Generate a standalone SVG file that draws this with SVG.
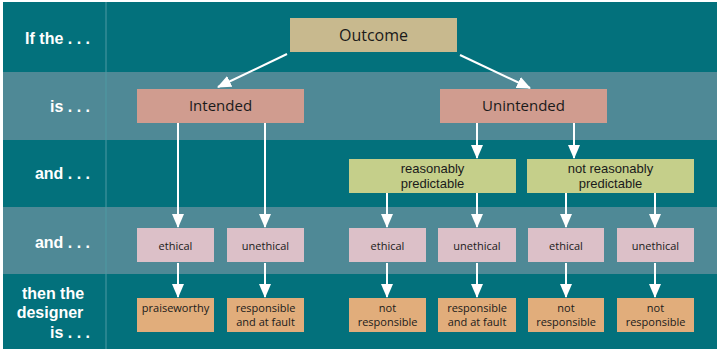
<svg xmlns="http://www.w3.org/2000/svg" width="720" height="352" viewBox="0 0 720 352">
<defs>
<marker id="ahv" viewBox="0 0 14 14" refX="13" refY="7" markerWidth="14" markerHeight="14" markerUnits="userSpaceOnUse" orient="auto"><path d="M0,1 L14,7 L0,13 z" fill="#fff"/></marker>
</defs>
<style>
.dark{fill:#03717c}
.light{fill:#4f8996}
.lbl{font-family:"Liberation Sans","Open Sans",sans-serif;font-weight:bold;font-size:16px;fill:#fff}
.t{font-family:"Open Sans","Liberation Sans",sans-serif;fill:#1a1a1a;text-anchor:middle}
.big{font-size:15px}
.mid{font-family:"Liberation Sans","Open Sans",sans-serif;font-size:13px}
.sm{font-size:11px}
.out{fill:#c8b98e}
.int{fill:#d09c8f}
.pred{fill:#c5cf8a}
.eth{fill:#dcc0c8}
.res{fill:#e1ad7b}
.c{stroke:#fff;stroke-width:2;fill:none}
</style>
<rect width="720" height="352" fill="#fff"/>
<g id="bands">
<rect class="dark" x="3" y="2" width="714" height="70"/>
<rect class="light" x="3" y="72" width="714" height="68"/>
<rect class="dark" x="3" y="140" width="714" height="67"/>
<rect class="light" x="3" y="207" width="714" height="67"/>
<rect class="dark" x="3" y="274" width="714" height="75"/>
<line x1="106" y1="2" x2="106" y2="349" stroke="#4e9aa3" stroke-width="1"/>
</g>
<g id="labels">
<text class="lbl" x="90" y="44" text-anchor="end">If the . . .</text>
<text class="lbl" x="90" y="112" text-anchor="end">is . . .</text>
<text class="lbl" x="90" y="179" text-anchor="end">and . . .</text>
<text class="lbl" x="90" y="248" text-anchor="end">and . . .</text>
<text class="lbl" x="53" y="299" text-anchor="middle">then the</text>
<text class="lbl" x="50" y="318" text-anchor="middle">designer</text>
<text class="lbl" x="90" y="338" text-anchor="end">is . . .</text>
</g>
<g id="connectors">
<line class="c" x1="287" y1="54" x2="218" y2="87" marker-end="url(#ahv)"/>
<line class="c" x1="460" y1="55" x2="530" y2="88" marker-end="url(#ahv)"/>
<line class="c" x1="178" y1="123" x2="178" y2="227" marker-end="url(#ahv)"/>
<line class="c" x1="265" y1="123" x2="265" y2="227" marker-end="url(#ahv)"/>
<line class="c" x1="477" y1="123" x2="477" y2="158" marker-end="url(#ahv)"/>
<line class="c" x1="574" y1="123" x2="574" y2="158" marker-end="url(#ahv)"/>
<line class="c" x1="387" y1="193" x2="387" y2="227" marker-end="url(#ahv)"/>
<line class="c" x1="477" y1="193" x2="477" y2="227" marker-end="url(#ahv)"/>
<line class="c" x1="566" y1="193" x2="566" y2="227" marker-end="url(#ahv)"/>
<line class="c" x1="655" y1="193" x2="655" y2="227" marker-end="url(#ahv)"/>
<line class="c" x1="178" y1="263" x2="178" y2="297" marker-end="url(#ahv)"/>
<line class="c" x1="265" y1="263" x2="265" y2="297" marker-end="url(#ahv)"/>
<line class="c" x1="387" y1="263" x2="387" y2="297" marker-end="url(#ahv)"/>
<line class="c" x1="477" y1="263" x2="477" y2="297" marker-end="url(#ahv)"/>
<line class="c" x1="566" y1="263" x2="566" y2="297" marker-end="url(#ahv)"/>
<line class="c" x1="655" y1="263" x2="655" y2="297" marker-end="url(#ahv)"/>
</g>
<g id="outcome"><rect class="out" x="290" y="18" width="167" height="34"/><text class="t" font-size="16" x="373.5" y="41">Outcome</text></g>
<g id="intended"><rect class="int" x="137" y="89" width="167" height="34"/><text class="t big" x="220.5" y="111">Intended</text></g>
<g id="unintended"><rect class="int" x="440" y="89" width="167" height="34"/><text class="t big" x="523.5" y="111">Unintended</text></g>
<g id="reasonably"><rect class="pred" x="349" y="159" width="167" height="34"/><text class="t mid" x="432.5" y="173">reasonably</text><text class="t mid" x="432.5" y="188">predictable</text></g>
<g id="notreasonably"><rect class="pred" x="527" y="159" width="167" height="34"/><text class="t mid" x="610.5" y="173">not reasonably</text><text class="t mid" x="610.5" y="188">predictable</text></g>
<g id="eth1"><rect class="eth" x="137" y="228" width="77" height="34"/><text class="t sm" x="175.5" y="250">ethical</text></g>
<g id="uneth1"><rect class="eth" x="227" y="228" width="77" height="34"/><text class="t sm" x="265.5" y="250">unethical</text></g>
<g id="eth2"><rect class="eth" x="349" y="228" width="77" height="34"/><text class="t sm" x="387.5" y="250">ethical</text></g>
<g id="uneth2"><rect class="eth" x="438" y="228" width="78" height="34"/><text class="t sm" x="477" y="250">unethical</text></g>
<g id="eth3"><rect class="eth" x="528" y="228" width="76" height="34"/><text class="t sm" x="566" y="250">ethical</text></g>
<g id="uneth3"><rect class="eth" x="617" y="228" width="77" height="34"/><text class="t sm" x="655.5" y="250">unethical</text></g>
<g id="res1"><rect class="res" x="137" y="298" width="77" height="34"/><text class="t sm" x="175.5" y="312">praiseworthy</text></g>
<g id="res2"><rect class="res" x="227" y="298" width="77" height="34"/><text class="t sm" x="265.5" y="312">responsible</text><text class="t sm" x="265.5" y="326">and at fault</text></g>
<g id="res3"><rect class="res" x="349" y="298" width="77" height="34"/><text class="t sm" x="387.5" y="312">not</text><text class="t sm" x="387.5" y="326">responsible</text></g>
<g id="res4"><rect class="res" x="438" y="298" width="78" height="34"/><text class="t sm" x="477" y="312">responsible</text><text class="t sm" x="477" y="326">and at fault</text></g>
<g id="res5"><rect class="res" x="528" y="298" width="76" height="34"/><text class="t sm" x="566" y="312">not</text><text class="t sm" x="566" y="326">responsible</text></g>
<g id="res6"><rect class="res" x="617" y="298" width="77" height="34"/><text class="t sm" x="655.5" y="312">not</text><text class="t sm" x="655.5" y="326">responsible</text></g>
</svg>
